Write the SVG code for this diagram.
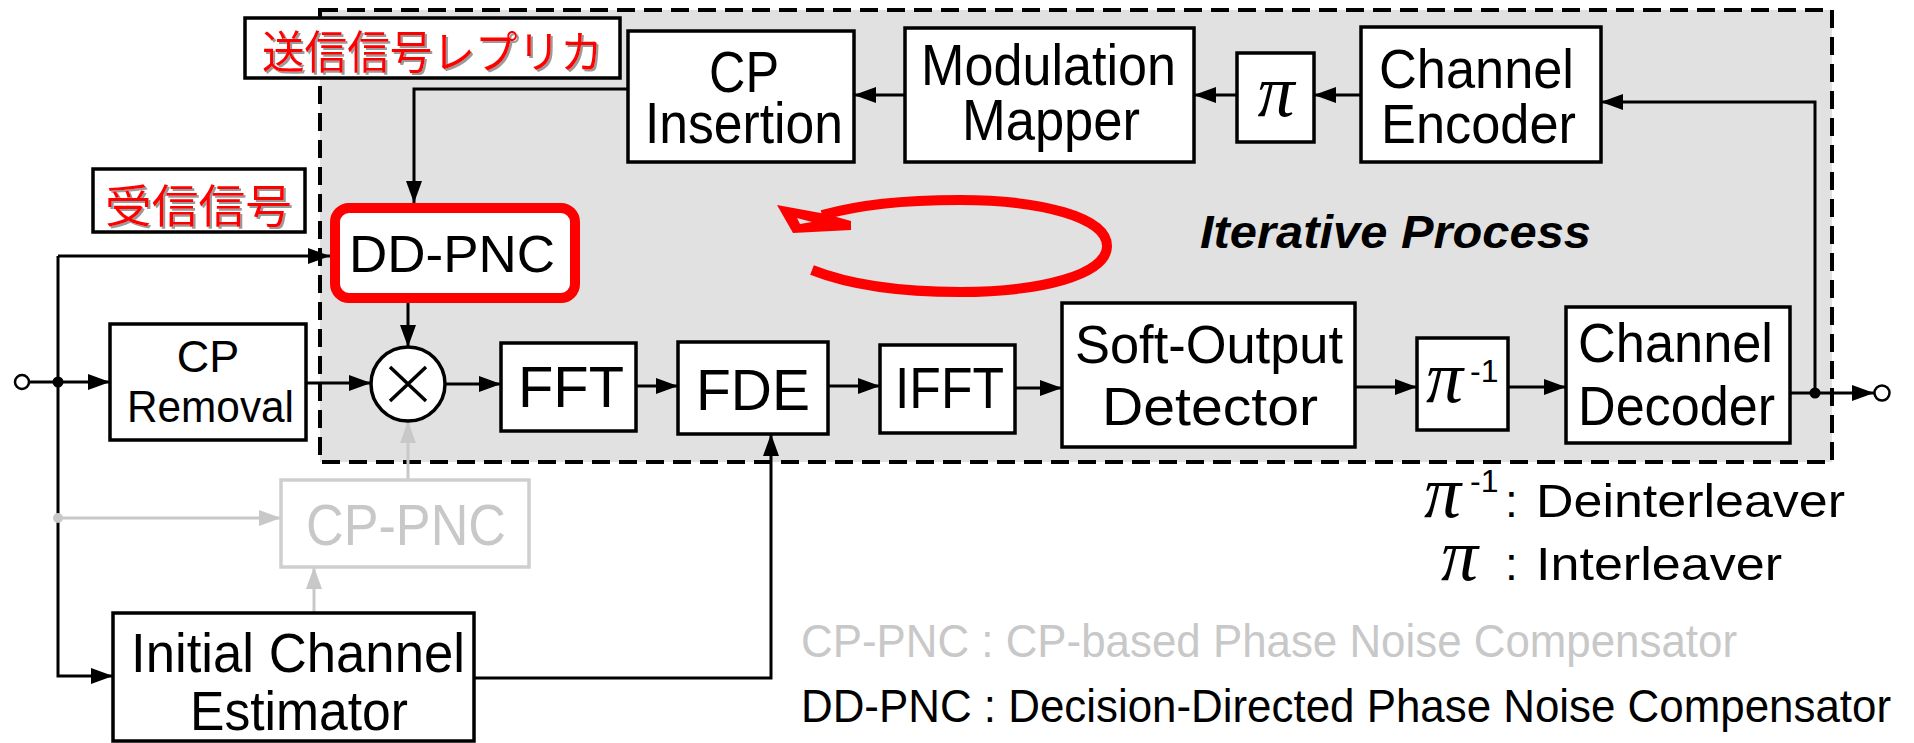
<svg xmlns="http://www.w3.org/2000/svg" width="1914" height="743" viewBox="0 0 1914 743">
<style>
  .box{fill:#fff;stroke:#000;stroke-width:3.5}
  .gbox{fill:#fff;stroke:#cfcfcf;stroke-width:3.5}
  .t{font-family:"Liberation Sans",Arial,sans-serif;fill:#000}
  .g{fill:#c8c8c8}
  .sym{font-family:"Liberation Serif","DejaVu Serif",serif;font-style:italic;fill:#000}
  .ln{fill:none;stroke:#000;stroke-width:3}
  .gln{fill:none;stroke:#c8c8c8;stroke-width:3}
  .jp{font-family:"Noto Sans CJK JP",sans-serif;fill:#ff0000;font-size:45px}
</style>
<defs>
  <marker id="ah" markerUnits="userSpaceOnUse" markerWidth="22" markerHeight="16" refX="22" refY="8" orient="auto">
    <path d="M0,0 L22,8 L0,16 Z" fill="#000"/>
  </marker>
  <marker id="gah" markerUnits="userSpaceOnUse" markerWidth="22" markerHeight="16" refX="22" refY="8" orient="auto">
    <path d="M0,0 L22,8 L0,16 Z" fill="#c8c8c8"/>
  </marker>
  <filter id="sh" x="-5%" y="-5%" width="110%" height="120%">
    <feDropShadow dx="2" dy="2" stdDeviation="0.6" flood-color="#9a9a9a"/>
  </filter>
</defs>

<!-- iterative process region -->
<g id="iterative-region">
  <rect x="320" y="10" width="1512" height="452" fill="#e1e1e1" stroke="#000" stroke-width="4" stroke-dasharray="18 9"/>
  <text class="t" x="1200" y="248" font-size="46" font-weight="bold" font-style="italic" textLength="391" lengthAdjust="spacingAndGlyphs">Iterative Process</text>
</g>

<!-- connectors -->
<g id="connectors">
  <circle cx="22" cy="382" r="7" fill="#fff" stroke="#000" stroke-width="2.5"/>
  <line class="ln" x1="29" y1="382" x2="110" y2="382" marker-end="url(#ah)"/>
  <circle cx="58" cy="382" r="5.5" fill="#000"/>
  <polyline class="ln" points="58,256 58,676 113,676" marker-end="url(#ah)"/>
  <line class="ln" x1="58" y1="256" x2="330" y2="256" marker-end="url(#ah)"/>
  <circle cx="58" cy="518" r="5" fill="#c8c8c8"/>
  <line class="gln" x1="58" y1="518" x2="281" y2="518" marker-end="url(#gah)"/>
  <line class="ln" x1="306" y1="383" x2="371" y2="383" marker-end="url(#ah)"/>
  <polyline class="ln" points="628,89 414,89 414,203" marker-end="url(#ah)"/>
  <line class="ln" x1="408" y1="303" x2="408" y2="347" marker-end="url(#ah)"/>
  <line class="ln" x1="445" y1="384" x2="501" y2="384" marker-end="url(#ah)"/>
  <line class="ln" x1="636" y1="386" x2="678" y2="386" marker-end="url(#ah)"/>
  <line class="ln" x1="828" y1="386" x2="880" y2="386" marker-end="url(#ah)"/>
  <line class="ln" x1="1015" y1="388" x2="1062" y2="388" marker-end="url(#ah)"/>
  <line class="ln" x1="1355" y1="387" x2="1417" y2="387" marker-end="url(#ah)"/>
  <line class="ln" x1="1508" y1="387" x2="1566" y2="387" marker-end="url(#ah)"/>
  <line class="ln" x1="1790" y1="393" x2="1874" y2="393" marker-end="url(#ah)"/>
  <circle cx="1815" cy="393" r="5.5" fill="#000"/>
  <circle cx="1882" cy="393" r="7.5" fill="#fff" stroke="#000" stroke-width="2.5"/>
  <polyline class="ln" points="1815,393 1815,102 1601,102" marker-end="url(#ah)"/>
  <line class="ln" x1="1361" y1="95" x2="1314" y2="95" marker-end="url(#ah)"/>
  <line class="ln" x1="1237" y1="95" x2="1194" y2="95" marker-end="url(#ah)"/>
  <line class="ln" x1="905" y1="95" x2="854" y2="95" marker-end="url(#ah)"/>
  <polyline class="ln" points="474,678 771,678 771,434" marker-end="url(#ah)"/>
  <line class="gln" x1="314" y1="613" x2="314" y2="567" marker-end="url(#gah)"/>
  <line class="gln" x1="408" y1="480" x2="408" y2="421" marker-end="url(#gah)"/>
  <!-- red loop arrow -->
  <path d="M812,270 C850,285 900,292 960,292 C1040,292 1107,275 1107,246 C1107,217 1040,200 960,200 C900,200 860,205 822,215" fill="none" stroke="#ff0000" stroke-width="10"/>
  <polygon points="777,205 793,233 851,230 851,221 826,214" fill="#ff0000"/>
  <polygon points="797,218 812,222 800,224" fill="#e1e1e1"/>
</g>

<!-- nodes -->
<g id="cp-removal">
  <rect class="box" x="110" y="324" width="196" height="116"/>
  <text class="t" x="208" y="372" font-size="45" text-anchor="middle">CP</text>
  <text class="t" x="127" y="422" font-size="45" textLength="167" lengthAdjust="spacingAndGlyphs">Removal</text>
</g>
<g id="dd-pnc">
  <rect x="335" y="208" width="240" height="90" rx="14" fill="#fff" stroke="#ff0000" stroke-width="10"/>
  <text class="t" x="349" y="272" font-size="52" textLength="206" lengthAdjust="spacingAndGlyphs">DD-PNC</text>
</g>
<g id="multiplier">
  <circle cx="408" cy="384" r="37" fill="#fff" stroke="#000" stroke-width="3.5"/>
  <path d="M390,367 L426,401 M426,367 L390,401" stroke="#000" stroke-width="3.5"/>
</g>
<g id="fft">
  <rect class="box" x="501" y="343" width="135" height="88"/>
  <text class="t" x="518" y="407" font-size="58" textLength="106" lengthAdjust="spacingAndGlyphs">FFT</text>
</g>
<g id="fde">
  <rect class="box" x="678" y="342" width="150" height="92"/>
  <text class="t" x="696" y="410" font-size="58" textLength="114" lengthAdjust="spacingAndGlyphs">FDE</text>
</g>
<g id="ifft">
  <rect class="box" x="880" y="345" width="135" height="88"/>
  <text class="t" x="895" y="408" font-size="58" textLength="109" lengthAdjust="spacingAndGlyphs">IFFT</text>
</g>
<g id="soft-output-detector">
  <rect class="box" x="1062" y="303" width="293" height="144"/>
  <text class="t" x="1075" y="363" font-size="53" textLength="268" lengthAdjust="spacingAndGlyphs">Soft-Output</text>
  <text class="t" x="1102" y="425" font-size="53" textLength="216" lengthAdjust="spacingAndGlyphs">Detector</text>
</g>
<g id="deinterleaver">
  <rect class="box" x="1417" y="338" width="91" height="92"/>
  <text class="sym" x="1426" y="402" font-size="74">π</text>
  <text class="t" x="1470" y="382" font-size="32">-1</text>
</g>
<g id="channel-decoder">
  <rect class="box" x="1566" y="307" width="224" height="136"/>
  <text class="t" x="1578" y="362" font-size="56" textLength="195" lengthAdjust="spacingAndGlyphs">Channel</text>
  <text class="t" x="1578" y="425" font-size="56" textLength="197" lengthAdjust="spacingAndGlyphs">Decoder</text>
</g>
<g id="channel-encoder">
  <rect class="box" x="1361" y="27" width="240" height="135"/>
  <text class="t" x="1379" y="88" font-size="56" textLength="195" lengthAdjust="spacingAndGlyphs">Channel</text>
  <text class="t" x="1381" y="143" font-size="56" textLength="195" lengthAdjust="spacingAndGlyphs">Encoder</text>
</g>
<g id="interleaver">
  <rect class="box" x="1237" y="53" width="77" height="89"/>
  <text class="sym" x="1276" y="116" font-size="74" text-anchor="middle">π</text>
</g>
<g id="modulation-mapper">
  <rect class="box" x="905" y="28" width="289" height="134"/>
  <text class="t" x="921" y="85" font-size="58" textLength="255" lengthAdjust="spacingAndGlyphs">Modulation</text>
  <text class="t" x="962" y="140" font-size="58" textLength="178" lengthAdjust="spacingAndGlyphs">Mapper</text>
</g>
<g id="cp-insertion">
  <rect class="box" x="628" y="31" width="226" height="131"/>
  <text class="t" x="709" y="92" font-size="58" textLength="70" lengthAdjust="spacingAndGlyphs">CP</text>
  <text class="t" x="645" y="143" font-size="57" textLength="198" lengthAdjust="spacingAndGlyphs">Insertion</text>
</g>
<g id="cp-pnc">
  <rect class="gbox" x="281" y="480" width="248" height="87"/>
  <text class="t g" x="306" y="545" font-size="57" textLength="200" lengthAdjust="spacingAndGlyphs">CP-PNC</text>
</g>
<g id="initial-channel-estimator">
  <rect class="box" x="113" y="613" width="361" height="128"/>
  <text class="t" x="131" y="672" font-size="55" textLength="334" lengthAdjust="spacingAndGlyphs">Initial Channel</text>
  <text class="t" x="190" y="730" font-size="55" textLength="218" lengthAdjust="spacingAndGlyphs">Estimator</text>
</g>

<!-- annotation labels -->
<g id="label-replica">
  <rect x="245" y="18" width="375" height="60" fill="#fff" stroke="#000" stroke-width="3.5"/>
  <text class="jp" x="262" y="69" textLength="341" lengthAdjust="spacingAndGlyphs" filter="url(#sh)">送信信号レプリカ</text>
</g>
<g id="label-received">
  <rect x="93" y="169" width="212" height="63" fill="#fff" stroke="#000" stroke-width="3.5"/>
  <text class="jp" x="105" y="223" textLength="187" lengthAdjust="spacingAndGlyphs" filter="url(#sh)">受信信号</text>
</g>

<!-- legend -->
<g id="legend">
  <text class="sym" x="1424" y="517" font-size="74">π</text>
  <text class="t" x="1470" y="492" font-size="32">-1</text>
  <text class="t" x="1505" y="517" font-size="46">:</text>
  <text class="t" x="1536" y="517" font-size="47" textLength="309" lengthAdjust="spacingAndGlyphs">Deinterleaver</text>
  <text class="sym" x="1441" y="580" font-size="74">π</text>
  <text class="t" x="1505" y="580" font-size="46">:</text>
  <text class="t" x="1536" y="580" font-size="47" textLength="246" lengthAdjust="spacingAndGlyphs">Interleaver</text>
  <text class="t g" x="801" y="657" font-size="46" textLength="936" lengthAdjust="spacingAndGlyphs">CP-PNC : CP-based Phase Noise Compensator</text>
  <text class="t" x="801" y="722" font-size="46" textLength="1090" lengthAdjust="spacingAndGlyphs">DD-PNC : Decision-Directed Phase Noise Compensator</text>
</g>
</svg>
